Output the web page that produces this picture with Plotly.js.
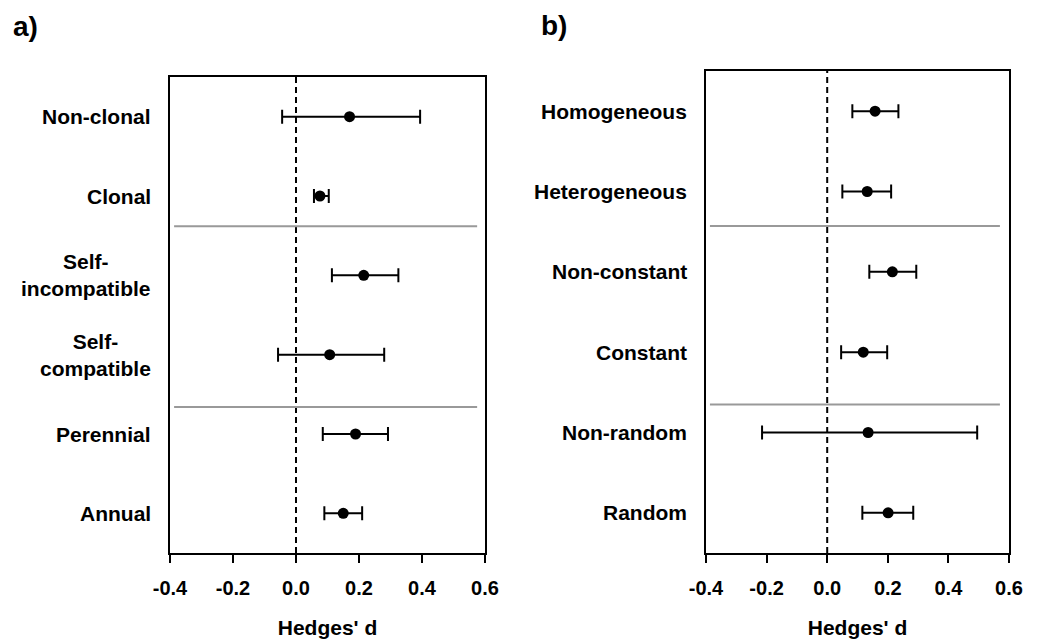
<!DOCTYPE html>
<html>
<head>
<meta charset="utf-8">
<script src="https://cdn.plot.ly/plotly-3.0.1.min.js"></script>
<style>html,body{margin:0;padding:0;background:#fff;}#chart{width:1046px;height:641px;}</style>
</head>
<body>
<div id="chart"></div>
<script>
// Panel a
var catsA = ['Non-clonal', 'Clonal', 'Self-<br>incompatible', 'Self-<br>compatible', 'Perennial', 'Annual'];
var meanA = [0.170, 0.076, 0.215, 0.107, 0.189, 0.150];
var lowA  = [-0.044, 0.057, 0.114, -0.057, 0.085, 0.090];
var highA = [0.394, 0.104, 0.325, 0.280, 0.292, 0.210];

// Panel b
var catsB = ['Homogeneous', 'Heterogeneous', 'Non-constant', 'Constant', 'Non-random', 'Random'];
var meanB = [0.158, 0.132, 0.215, 0.119, 0.135, 0.201];
var lowB  = [0.083, 0.050, 0.139, 0.046, -0.215, 0.116];
var highB = [0.235, 0.211, 0.294, 0.198, 0.495, 0.284];

var xTicks = [-0.4, -0.2, 0.0, 0.2, 0.4, 0.6];
var xTickText = ['-0.4', '-0.2', '0.0', '0.2', '0.4', '0.6'];
var xTitle = "Hedges' d";
var panelLabels = ['a)', 'b)'];

var FONT = 'Arial, "Liberation Sans", sans-serif';

function trace(cats, mean, low, high, xa, ya) {
  return {
    type: 'scatter', mode: 'markers',
    x: mean, y: cats, xaxis: xa, yaxis: ya,
    marker: {color: 'black', size: 11},
    error_x: {
      type: 'data', symmetric: false,
      array: high.map(function (h, i) { return h - mean[i]; }),
      arrayminus: low.map(function (l, i) { return mean[i] - l; }),
      color: 'black', thickness: 2, width: 7
    },
    hoverinfo: 'x+y'
  };
}

function xaxisCfg(domain, anchor) {
  return {
    domain: domain, anchor: anchor, range: [-0.4, 0.6],
    tickmode: 'array', tickvals: xTicks, ticktext: xTickText,
    ticks: 'outside', ticklen: 8, tickwidth: 2, tickcolor: 'black',
    showline: true, linewidth: 2, linecolor: 'black', mirror: true,
    showgrid: false, zeroline: false,
    tickfont: {family: FONT, size: 20, color: 'black', weight: 'bold'},
    ticklabelstandoff: 8,
    title: {text: xTitle, font: {family: FONT, size: 21, color: 'black', weight: 'bold'}, standoff: 22},
    automargin: false
  };
}
function yaxisCfg(domain, anchor, cats) {
  return {
    domain: domain, anchor: anchor, type: 'category',
    categoryorder: 'array', categoryarray: cats,
    range: [5.5, -0.5],
    showticklabels: false, ticks: '',
    showline: true, linewidth: 2, linecolor: 'black', mirror: true,
    showgrid: false, zeroline: false, automargin: false
  };
}

var annotations = [];
function addCatLabels(cats, xref, yref, shift) {
  cats.forEach(function (c) {
    annotations.push({
      text: c, xref: xref, x: 0, xanchor: 'right', xshift: shift,
      yref: yref, y: c, yanchor: 'middle', align: 'center', showarrow: false,
      font: {family: FONT, size: 21, color: 'black', weight: 'bold'}
    });
  });
}
addCatLabels(catsA, 'x domain', 'y', -17);
addCatLabels(catsB, 'x2 domain', 'y2', -17);

annotations.push({text: panelLabels[0], xref: 'paper', yref: 'paper', x: 25 / 1046, y: 1 - 27 / 641,
  xanchor: 'center', yanchor: 'middle', showarrow: false,
  font: {family: FONT, size: 28, color: 'black', weight: 'bold'}});
annotations.push({text: panelLabels[1], xref: 'paper', yref: 'paper', x: 554 / 1046, y: 1 - 25 / 641,
  xanchor: 'center', yanchor: 'middle', showarrow: false,
  font: {family: FONT, size: 28, color: 'black', weight: 'bold'}});

var shapes = [
  {type: 'line', xref: 'x', yref: 'y domain', x0: 0, x1: 0, y0: 0, y1: 1, layer: 'below',
   line: {color: 'black', width: 2, dash: '6px,4px'}},
  {type: 'line', xref: 'x2', yref: 'y2 domain', x0: 0, x1: 0, y0: 0, y1: 1, layer: 'below',
   line: {color: 'black', width: 2, dash: '6px,4px'}},
  {type: 'line', xref: 'x domain', yref: 'y', x0: 0.013, x1: 0.975, y0: 1.38, y1: 1.38, layer: 'below',
   line: {color: '#999999', width: 2}},
  {type: 'line', xref: 'x domain', yref: 'y', x0: 0.013, x1: 0.975, y0: 3.66, y1: 3.66, layer: 'below',
   line: {color: '#999999', width: 2}},
  {type: 'line', xref: 'x2 domain', yref: 'y2', x0: 0.013, x1: 0.970, y0: 1.43, y1: 1.43, layer: 'below',
   line: {color: '#999999', width: 2}},
  {type: 'line', xref: 'x2 domain', yref: 'y2', x0: 0.013, x1: 0.970, y0: 3.65, y1: 3.65, layer: 'below',
   line: {color: '#999999', width: 2}}
];

var layout = {
  width: 1046, height: 641,
  margin: {l: 0, r: 0, t: 0, b: 0},
  paper_bgcolor: 'white', plot_bgcolor: 'white',
  showlegend: false,
  font: {family: FONT, color: 'black'},
  xaxis: xaxisCfg([170 / 1046, 485 / 1046], 'y'),
  yaxis: yaxisCfg([1 - 553 / 641, 1 - 77 / 641], 'x', catsA),
  xaxis2: xaxisCfg([706 / 1046, 1009 / 1046], 'y2'),
  yaxis2: yaxisCfg([1 - 553 / 641, 1 - 71 / 641], 'x2', catsB),
  shapes: shapes,
  annotations: annotations
};

Plotly.newPlot('chart', [
  trace(catsA, meanA, lowA, highA, 'x', 'y'),
  trace(catsB, meanB, lowB, highB, 'x2', 'y2')
], layout, {displayModeBar: false, staticPlot: true});
</script>
</body>
</html>
